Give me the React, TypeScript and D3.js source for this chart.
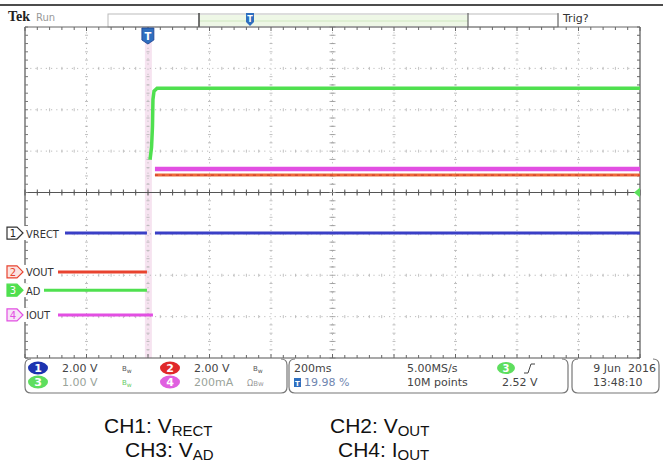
import React from 'react';
import * as d3 from 'd3';

const W = 663;
const H = 469;

// Horizontal: 200 ms/div, 10 divisions, trigger at 19.98 %
const timeDomainMs: [number, number] = [-399.6, 1600.4];
const divDomain: [number, number] = [-4, 4];

// Trace samples: [time ms, level in divisions]
const ch1Pre: [number, number][] = [[-399.6, -0.98], [-3, -0.98]];
const ch1Post: [number, number][] = [[23, -0.98], [1600.4, -0.98]];
const ch2Pre: [number, number][] = [[-399.6, -1.92], [-3, -1.92]];
const ch2Post: [number, number][] = [[23, 0.42], [1600.4, 0.42]];
const ch3Pre: [number, number][] = [[-399.6, -2.36], [-3, -2.36]];
const ch3Post: [number, number][] = [[7, 0.79], [12, 1.1], [15, 1.6], [16.5, 2.25], [20, 2.45], [30, 2.52], [1600.4, 2.52]];
const ch4Pre: [number, number][] = [[-399.6, -2.96], [16.5, -2.96]];
const ch4Post: [number, number][] = [[23, 0.57], [1600.4, 0.57]];

const channelNames = ['VRECT', 'VOUT', 'AD', 'IOUT'];
const channelNumbers = ['1', '2', '3', '4'];
const channelLevels = [-0.98, -1.92, -2.36, -2.96];
const channelColors = ['#3a3fc6', '#e8432f', '#4fe04f', '#e24fe2'];

const scaleRow1 = ['2.00 V', '2.00 V'];
const scaleRow2 = ['1.00 V', '200mA'];
const timebase = '200ms';
const triggerPos = '19.98 %';
const sampleRate = '5.00MS/s';
const recordLen = '10M points';
const trigLevel = '2.52 V';
const dateText = '9 Jun  2016';
const timeText = '13:48:10';

const captions = [
  { ch: 'CH1: ', base: 'V', sub: 'RECT' },
  { ch: 'CH2: ', base: 'V', sub: 'OUT' },
  { ch: 'CH3: ', base: 'V', sub: 'AD' },
  { ch: 'CH4: ', base: 'I', sub: 'OUT' },
];

const GL = 25, GR = 640, GT = 27, GB = 358;

export default function App() {
  const x = d3.scaleLinear().domain(timeDomainMs).range([GL, GR]);
  const y = d3.scaleLinear().domain(divDomain).range([GB, GT]);
  const line = d3.line<[number, number]>().x(d => x(d[0])).y(d => y(d[1]));
  const xDivs = d3.range(0, 11).map(i => GL + (i * (GR - GL)) / 10);
  const yDivs = d3.range(-4, 5).map(v => y(v));
  const xMinor = d3.range(0, 51).map(i => GL + (i * (GR - GL)) / 50);
  const yMinor = d3.range(0, 41).map(i => GT + (i * (GB - GT)) / 40);
  const cx = (GL + GR) / 2;
  const cy = y(0);
  const trigX = x(0);
  const mono = '"DejaVu Sans Condensed", "DejaVu Sans", sans-serif';
  const panelFont = '"DejaVu Sans", sans-serif';

  const boxPath = (x0: number, x1: number, y0: number, y1: number, r: number) =>
    `M${x0 + r},${y0} Q${x0},${y0} ${x0},${y0 + r} L${x0},${y1 - r} Q${x0},${y1} ${x0 + r},${y1} L${x1 - r},${y1} Q${x1},${y1} ${x1},${y1 - r} L${x1},${y0 + r} Q${x1},${y0} ${x1 - r},${y0}`;

  return (
    <svg width={W} height={H} style={{ position: 'absolute', left: 0, top: 0, background: '#fff' }}>
      <rect x={0} y={0} width={W} height={H} fill="#fff" />
      {/* top rule */}
      <line x1={0} x2={W} y1={5} y2={5} stroke="#111" strokeWidth={1.5} />
      {/* Tek Run */}
      <text x={8} y={21} fontFamily='"Liberation Serif", serif' fontWeight="bold" fontSize={14} fill="#222">Tek</text>
      <text x={36} y={21} fontFamily={panelFont} fontSize={10} fill="#999">Run</text>
      {/* record view bar */}
      <rect x={108} y={14} width={450} height={13} fill="none" stroke="#bbb" strokeWidth={1} />
      <rect x={199} y={15} width={269} height={11} fill="#eef7e6" />
      <line x1={199} x2={468} y1={21} y2={21} stroke="#cfe8c0" strokeWidth={1} />
      <line x1={199} x2={199} y1={13} y2={27} stroke="#444" strokeWidth={1.5} />
      <line x1={468} x2={468} y1={13} y2={27} stroke="#666" strokeWidth={1.2} />
      <line x1={558} x2={558} y1={13} y2={27} stroke="#666" strokeWidth={1} />
      <text x={563} y={22} fontFamily={panelFont} fontSize={11} fill="#333">Trig?</text>
      {/* record trigger pin */}
      <path d="M246,13 L254,13 L254,22 L250,26 L246,22 Z" fill="#2f6fbf" />
      <text x={250} y={22} textAnchor="middle" fontFamily={panelFont} fontSize={8} fontWeight="bold" fill="#fff">T</text>

      {/* trigger band */}
      <rect x={trigX - 3} y={GT + 3} width={7} height={GB - GT - 3} fill="#f6e3f0" />

      {/* graticule grid */}
      {xDivs.slice(1, 10).map((gx, i) => (
        <line key={'vx' + i} x1={gx} x2={gx} y1={GT} y2={GB} stroke="#bdbdbd" strokeWidth={1} strokeDasharray="1.2,4" />
      ))}
      {yDivs.slice(1, 8).map((gy, i) => (
        <line key={'hy' + i} x1={GL} x2={GR} y1={gy} y2={gy} stroke="#bdbdbd" strokeWidth={1} strokeDasharray="1.2,4" />
      ))}
      {yDivs.slice(1, 8).map((gy, j) =>
        xMinor.map((mx, i) => (i % 5 === 0 ? null : (
          <line key={'mh' + j + '-' + i} x1={mx} x2={mx} y1={gy - 1.5} y2={gy + 1.5} stroke="#b0b0b0" strokeWidth={0.8} />
        )))
      )}
      {xDivs.slice(1, 10).map((gx, j) =>
        yMinor.map((my, i) => (i % 5 === 0 ? null : (
          <line key={'mv' + j + '-' + i} x1={gx - 1.5} x2={gx + 1.5} y1={my} y2={my} stroke="#b0b0b0" strokeWidth={0.8} />
        )))
      )}
      {/* center axis */}
      <line x1={GL} x2={GR} y1={cy} y2={cy} stroke="#555" strokeWidth={1} />
      {xMinor.map((mx, i) => (
        <line key={'ct' + i} x1={mx} x2={mx} y1={cy - 3} y2={cy + 3} stroke="#555" strokeWidth={1} />
      ))}
      {yMinor.map((my, i) => (
        <line key={'cv' + i} x1={cx - 3} x2={cx + 3} y1={my} y2={my} stroke="#999" strokeWidth={0.8} />
      ))}
      {/* frame */}
      <line x1={GL} x2={GR} y1={GT} y2={GT} stroke="#666" strokeWidth={1} />
      <line x1={GL} x2={GR} y1={GB} y2={GB} stroke="#555" strokeWidth={1.2} />
      <line x1={GL} x2={GL} y1={GT} y2={GB} stroke="#555" strokeWidth={1.2} />
      <line x1={GR} x2={GR} y1={GT} y2={GB} stroke="#555" strokeWidth={1.2} />
      {xMinor.map((mx, i) => (
        <g key={'ft' + i}>
          <line x1={mx} x2={mx} y1={GT} y2={GT + (i % 5 === 0 ? 4 : 3)} stroke="#666" strokeWidth={1} />
          <line x1={mx} x2={mx} y1={GB} y2={GB - (i % 5 === 0 ? 4 : 3)} stroke="#666" strokeWidth={1} />
        </g>
      ))}
      {yMinor.map((my, i) => (
        <g key={'fl' + i}>
          <line x1={GL} x2={GL + 3} y1={my} y2={my} stroke="#777" strokeWidth={1} />
          <line x1={GR} x2={GR - 3} y1={my} y2={my} stroke="#666" strokeWidth={1} />
        </g>
      ))}

      {/* traces */}
      <path d={line(ch1Pre) || ''} stroke={channelColors[0]} strokeWidth={3} fill="none" />
      <path d={line(ch1Post) || ''} stroke={channelColors[0]} strokeWidth={3} fill="none" />
      <path d={line(ch2Pre) || ''} stroke={channelColors[1]} strokeWidth={3} fill="none" />
      <path d={line(ch2Post) || ''} stroke="#ee6a3a" strokeWidth={3} fill="none" />
      <path d={line(ch2Post) || ''} stroke="#c8362a" strokeWidth={1} strokeDasharray="3,4" fill="none" />
      <path d={line(ch3Pre) || ''} stroke={channelColors[2]} strokeWidth={3} fill="none" />
      <path d={line(ch3Post) || ''} stroke={channelColors[2]} strokeWidth={3.5} fill="none" />
      <path d={line(ch4Pre) || ''} stroke={channelColors[3]} strokeWidth={3} fill="none" />
      <path d={line(ch4Post) || ''} stroke={channelColors[3]} strokeWidth={4.5} fill="none" />

      {/* trigger marker at top */}
      <path d={`M${trigX - 6},${GT + 1} L${trigX + 6},${GT + 1} L${trigX + 6},${GT + 13} L${trigX},${GT + 17} L${trigX - 6},${GT + 13} Z`} fill="#2f6fbf" stroke="#1a3f8f" strokeWidth={0.8} />
      <text x={trigX} y={GT + 13} textAnchor="middle" fontFamily={panelFont} fontSize={10} fontWeight="bold" fill="#fff">T</text>

      {/* trigger level arrow right */}
      <path d={`M${GR},${cy - 5} L${GR - 6},${cy} L${GR},${cy + 5} Z`} fill="#5be05b" />

      {/* channel labels */}
      {channelNames.map((name, i) => {
        const ly = y(channelLevels[i]);
        const col = channelColors[i];
        const filled = i === 2;
        return (
          <g key={'lab' + i}>
            <rect x={6} y={ly - 7} width={name.length * 7 + 24} height={14} fill="#fff" />
            <path d={`M7,${ly - 6} L17,${ly - 6} L23,${ly} L17,${ly + 6} L7,${ly + 6} Z`}
              fill={filled ? col : i === 0 ? '#fff' : i === 1 ? '#fbe3e0' : '#f6e4f6'}
              stroke={i === 0 ? '#333' : col} strokeWidth={1.2} />
            <text x={13} y={ly + 4} textAnchor="middle" fontFamily={panelFont} fontSize={10} fill={filled ? '#fff' : i === 0 ? '#222' : col}>{channelNumbers[i]}</text>
            <text x={26} y={ly + 4.5} fontFamily={mono} fontSize={11} fill="#333">{name}</text>
          </g>
        );
      })}

      {/* bottom panel boxes */}
      <path d={boxPath(25, 287, 359, 393, 6)} fill="none" stroke="#777" strokeWidth={1.2} />
      <path d={boxPath(289, 568, 359, 393, 6)} fill="none" stroke="#777" strokeWidth={1.2} />
      <path d={boxPath(572, 659, 359, 393, 6)} fill="none" stroke="#777" strokeWidth={1.2} />

      {/* panel row contents */}
      {[0, 1].map(r => {
        const by = r === 0 ? 372 : 386;
        const cyE = by - 4;
        const ellFill = r === 0 ? ['#1c33b0', '#e0282a'] : ['#5ede5e', '#e05fe0'];
        const nums = r === 0 ? ['1', '2'] : ['3', '4'];
        const vals = r === 0 ? scaleRow1 : scaleRow2;
        const txtCol = r === 0 ? '#444' : '#9aa39a';
        return (
          <g key={'row' + r}>
            <ellipse cx={38} cy={cyE} rx={10} ry={6.5} fill={ellFill[0]} />
            <text x={38} y={by} textAnchor="middle" fontFamily={panelFont} fontSize={11} fontWeight="bold" fill="#fff">{nums[0]}</text>
            <text x={62} y={by} fontFamily={panelFont} fontSize={11} fill={txtCol}>{vals[0]}</text>
            <text x={122} y={by - 1} fontFamily={panelFont} fontSize={7} fill={r === 0 ? '#555' : '#6c6'}>B<tspan fontSize={6} dy={2}>w</tspan></text>
            <ellipse cx={170} cy={cyE} rx={10} ry={6.5} fill={ellFill[1]} />
            <text x={170} y={by} textAnchor="middle" fontFamily={panelFont} fontSize={11} fontWeight="bold" fill="#fff">{nums[1]}</text>
            <text x={194} y={by} fontFamily={panelFont} fontSize={11} fill={txtCol}>{vals[1]}</text>
            {r === 0 ? (
              <text x={253} y={by - 1} fontFamily={panelFont} fontSize={7} fill="#555">B<tspan fontSize={6} dy={2}>w</tspan></text>
            ) : (
              <text x={247} y={by} fontFamily={panelFont} fontSize={8} fill="#999">Ω<tspan fontSize={7}>Bw</tspan></text>
            )}
          </g>
        );
      })}
      <text x={294} y={372} fontFamily={panelFont} fontSize={11} fill="#444">{timebase}</text>
      <rect x={294} y={378} width={7} height={9} fill="#2f6fbf" />
      <text x={297.5} y={386} textAnchor="middle" fontFamily={panelFont} fontSize={7} fontWeight="bold" fill="#fff">T</text>
      <text x={304} y={386} fontFamily={panelFont} fontSize={11} fill="#6f86b0">{triggerPos}</text>
      <text x={407} y={372} fontFamily={panelFont} fontSize={11} fill="#444">{sampleRate}</text>
      <text x={407} y={386} fontFamily={panelFont} fontSize={11} fill="#444">{recordLen}</text>
      <ellipse cx={506} cy={368} rx={9} ry={6} fill="#5ede5e" />
      <text x={506} y={372} textAnchor="middle" fontFamily={panelFont} fontSize={10} fontWeight="bold" fill="#fff">3</text>
      <path d="M524,373 L528,373 L531,364 L535,364" stroke="#444" strokeWidth={1} fill="none" />
      <text x={502} y={386} fontFamily={panelFont} fontSize={11} fill="#444">{trigLevel}</text>
      <text x={656} y={372} textAnchor="end" fontFamily={panelFont} fontSize={11} fill="#444" style={{ whiteSpace: 'pre' }}>{dateText}</text>
      <text x={593} y={386} fontFamily={panelFont} fontSize={11} fill="#444">{timeText}</text>

      {/* captions */}
      {captions.map((c, i) => {
        const cxp = [104, 330, 125, 338][i];
        const by = i < 2 ? 433 : 457;
        return (
          <text key={'cap' + i} x={cxp} y={by} fontFamily='"Liberation Sans", Arial, sans-serif' fontSize={21} fill="#111">
            {c.ch}{c.base}<tspan fontSize={15} dy={3}>{c.sub}</tspan>
          </text>
        );
      })}
    </svg>
  );
}
